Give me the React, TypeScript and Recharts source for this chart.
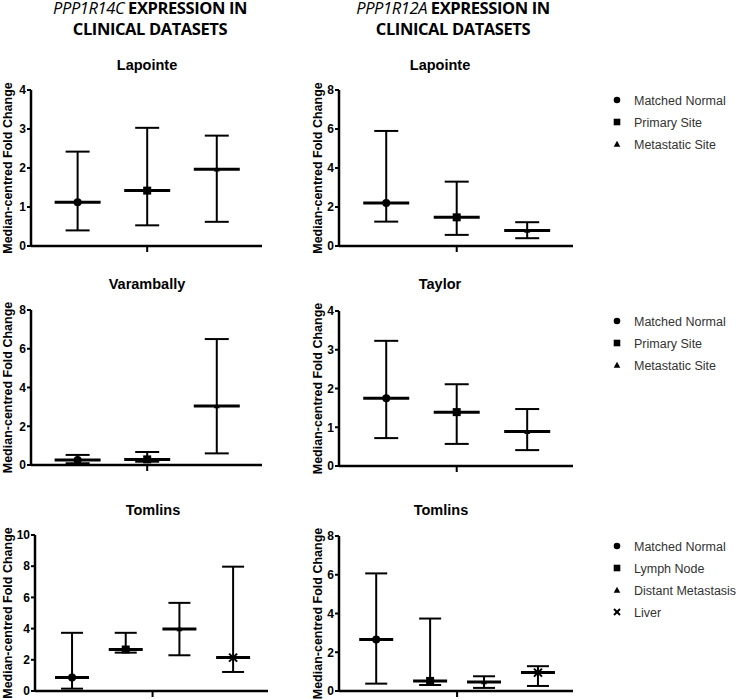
import React from 'react';
import { ComposedChart, Scatter, ErrorBar, XAxis, YAxis } from 'recharts';

// group names
const sitesGroups = ['Matched Normal', 'Primary Site', 'Metastatic Site'];
const tomlinsGroups = ['Matched Normal', 'Lymph Node', 'Distant Metastasis', 'Liver'];

// y tick sets
const ticksTo4 = [0, 1, 2, 3, 4];
const ticksTo8 = [0, 2, 4, 6, 8];
const ticksTo10 = [0, 2, 4, 6, 8, 10];

// PPP1R14C - Lapointe
const r14cLapointeLow = [0.4, 0.53, 0.62];
const r14cLapointeMedian = [1.12, 1.42, 1.97];
const r14cLapointeHigh = [2.42, 3.03, 2.83];
// PPP1R14C - Varambally
const r14cVaramballyLow = [0.09, 0.17, 0.6];
const r14cVaramballyMedian = [0.26, 0.29, 3.05];
const r14cVaramballyHigh = [0.52, 0.67, 6.5];
// PPP1R14C - Tomlins
const r14cTomlinsLow = [0.15, 2.46, 2.29, 1.22];
const r14cTomlinsMedian = [0.86, 2.66, 3.98, 2.14];
const r14cTomlinsHigh = [3.73, 3.73, 5.65, 7.97];

// PPP1R12A - Lapointe
const r12aLapointeLow = [1.25, 0.57, 0.4];
const r12aLapointeMedian = [2.2, 1.47, 0.8];
const r12aLapointeHigh = [5.9, 3.3, 1.22];
// PPP1R12A - Taylor
const r12aTaylorLow = [0.72, 0.57, 0.41];
const r12aTaylorMedian = [1.75, 1.39, 0.89];
const r12aTaylorHigh = [3.23, 2.11, 1.47];
// PPP1R12A - Tomlins
const r12aTomlinsLow = [0.38, 0.31, 0.16, 0.26];
const r12aTomlinsMedian = [2.66, 0.52, 0.47, 0.95];
const r12aTomlinsHigh = [6.07, 3.74, 0.76, 1.28];

const FONT = '"Liberation Sans", Arial, sans-serif';

const buildRows = (groups: string[], low: number[], median: number[], high: number[]) =>
  groups.map((name, i) => ({
    name,
    x: i + 1,
    median: median[i],
    range: [median[i] - low[i], high[i] - median[i]],
  }));

// 0 circle, 1 square, 2 triangle, 3 cross
const Glyph = ({ kind, cx, cy, s }: { kind: number; cx: number; cy: number; s: number }) => {
  if (kind === 0) return <circle cx={cx} cy={cy} r={s} fill="#000" />;
  if (kind === 1) return <rect x={cx - s} y={cy - s} width={s * 2} height={s * 2} fill="#000" />;
  if (kind === 2)
    return <polygon points={`${cx},${cy - s} ${cx + s},${cy + s * 0.8} ${cx - s},${cy + s * 0.8}`} fill="#000" />;
  return (
    <g stroke="#000" strokeWidth={2}>
      <line x1={cx - s} y1={cy - s} x2={cx + s} y2={cy + s} />
      <line x1={cx - s} y1={cy + s} x2={cx + s} y2={cy - s} />
    </g>
  );
};

interface PanelProps {
  box: { left: number; top: number; right: number; bottom: number };
  rows: any[];
  ticks: number[];
  medHalf: number;
  capHalf: number;
}

const Panel = ({ box, rows, ticks, medHalf, capHalf }: PanelProps) => {
  const n = rows.length;
  const axisW = 40;
  const width = axisW + (box.right - box.left) + 4;
  const height = 10 + (box.bottom - box.top) + 10;
  return (
    <div style={{ position: 'absolute', left: box.left - axisW, top: box.top - 10 }}>
      <ComposedChart width={width} height={height} data={rows} margin={{ top: 10, right: 4, left: 0, bottom: 0 }}>
        <XAxis
          dataKey="x"
          type="number"
          domain={[n === 3 ? 0.33 : 0.31, n + 0.65]}
          ticks={[(n + 1) / 2]}
          allowDataOverflow
          tick={() => <g />}
          tickSize={6}
          height={10}
          axisLine={{ stroke: '#000', strokeWidth: 2.5 }}
          tickLine={{ stroke: '#000', strokeWidth: 2 }}
        />
        <YAxis
          type="number"
          domain={[0, ticks[ticks.length - 1]]}
          ticks={ticks}
          interval={0}
          width={axisW}
          tickSize={4}
          tickMargin={1}
          axisLine={{ stroke: '#000', strokeWidth: 2.5 }}
          tickLine={{ stroke: '#000', strokeWidth: 2 }}
          tick={{ fill: '#000', fontSize: 12, fontWeight: 700, fontFamily: FONT }}
        />
        <Scatter
          dataKey="median"
          isAnimationActive={false}
          shape={(p: any) => (
            <g>
              <line x1={p.cx - medHalf} x2={p.cx + medHalf} y1={p.cy} y2={p.cy} stroke="#000" strokeWidth={3} />
              <Glyph kind={p.payload.x - 1} cx={p.cx} cy={p.cy} s={p.payload.x === 3 ? 3 : 4} />
            </g>
          )}
        >
          <ErrorBar
            dataKey="range"
            direction="y"
            width={capHalf}
            stroke="#000"
            strokeWidth={2}
            isAnimationActive={false}
          />
        </Scatter>
      </ComposedChart>
    </div>
  );
};

const panels = [
  { box: { left: 31, top: 90, right: 262, bottom: 246 }, rows: buildRows(sitesGroups, r14cLapointeLow, r14cLapointeMedian, r14cLapointeHigh), ticks: ticksTo4, title: 'Lapointe', tx: 147, ty: 70 },
  { box: { left: 31, top: 310, right: 262, bottom: 465 }, rows: buildRows(sitesGroups, r14cVaramballyLow, r14cVaramballyMedian, r14cVaramballyHigh), ticks: ticksTo8, title: 'Varambally', tx: 147, ty: 289 },
  { box: { left: 35, top: 535, right: 268, bottom: 691 }, rows: buildRows(tomlinsGroups, r14cTomlinsLow, r14cTomlinsMedian, r14cTomlinsHigh), ticks: ticksTo10, title: 'Tomlins', tx: 153, ty: 515 },
  { box: { left: 339, top: 90, right: 573, bottom: 246 }, rows: buildRows(sitesGroups, r12aLapointeLow, r12aLapointeMedian, r12aLapointeHigh), ticks: ticksTo8, title: 'Lapointe', tx: 440, ty: 70 },
  { box: { left: 339, top: 311, right: 573, bottom: 466 }, rows: buildRows(sitesGroups, r12aTaylorLow, r12aTaylorMedian, r12aTaylorHigh), ticks: ticksTo4, title: 'Taylor', tx: 440, ty: 289 },
  { box: { left: 339, top: 536, right: 573, bottom: 691 }, rows: buildRows(tomlinsGroups, r12aTomlinsLow, r12aTomlinsMedian, r12aTomlinsHigh), ticks: ticksTo8, title: 'Tomlins', tx: 441, ty: 515 },
];

const legends = [
  { groups: sitesGroups, y: 100 },
  { groups: sitesGroups, y: 321 },
  { groups: tomlinsGroups, y: 546 },
];

const headings = [
  { gene: 'PPP1R14C', x: 150 },
  { gene: 'PPP1R12A', x: 453 },
];

export default function App() {
  return (
    <div style={{ position: 'absolute', left: 0, top: 0, width: 736, height: 699, background: '#fff', overflow: 'hidden' }}>
      <svg width={736} height={699} style={{ position: 'absolute', left: 0, top: 0 }}>
        {headings.map((h) => (
          <g key={h.gene} fontFamily='"Open Sans", sans-serif' fontSize={16.5} fill="#000" textAnchor="middle" letterSpacing={-0.4}>
            <text x={h.x} y={14}>
              <tspan fontStyle="italic">{h.gene}</tspan>
              <tspan fontWeight={700}> EXPRESSION IN</tspan>
            </text>
            <text x={h.x} y={35}>
              <tspan fontWeight={700}>CLINICAL DATASETS</tspan>
            </text>
          </g>
        ))}
        {panels.map((p, i) => (
          <g key={i} fontFamily={FONT} fontWeight={700} fill="#000">
            <text x={p.tx} y={p.ty} fontSize={14.5} textAnchor="middle">{p.title}</text>
            <text
              x={0}
              y={0}
              fontSize={12.5}
              textAnchor="middle"
              dominantBaseline="central"
              transform={`translate(${p.box.left < 300 ? 8 : 317.5},${(p.box.top + p.box.bottom) / 2}) rotate(-90)`}
            >
              Median-centred Fold Change
            </text>
          </g>
        ))}
        {legends.map((l, li) =>
          l.groups.map((g, i) => (
            <g key={`${li}-${i}`}>
              <Glyph kind={i} cx={617} cy={l.y + i * 22} s={i === 3 ? 3 : 3.3} />
              <text x={634} y={l.y + i * 22 + 4.5} fontFamily={FONT} fontSize={12.5} fill="#333">{g}</text>
            </g>
          ))
        )}
      </svg>
      {panels.map((p, i) => (
        <Panel key={i} box={p.box} rows={p.rows} ticks={p.ticks} medHalf={p.rows.length === 3 ? 23 : 17} capHalf={p.rows.length === 3 ? 12 : 11} />
      ))}
    </div>
  );
}
